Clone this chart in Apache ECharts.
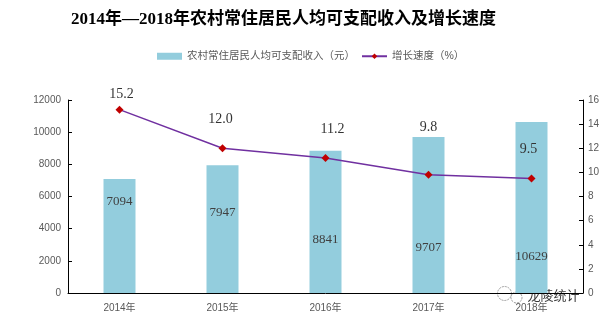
<!DOCTYPE html>
<html>
<head>
<meta charset="utf-8">
<script src="https://cdn.jsdelivr.net/npm/echarts@6/dist/echarts.min.js"></script>
<style>
  html, body { margin: 0; padding: 0; background: #fff; }
  #chart { width: 606px; height: 322px; }
</style>
</head>
<body>
<div id="chart"></div>
<script>
// Rural per-capita disposable income (yuan) and its growth rate (%)
const categories = ['2014年', '2015年', '2016年', '2017年', '2018年'];
const income = [7094, 7947, 8841, 9707, 10629];
const growth = [15.2, 12.0, 11.2, 9.8, 9.5];

// Axis ranges
const incomeAxis = { min: 0, max: 12000, interval: 2000 };
const growthAxis = { min: 0, max: 16, interval: 2 };

// Label placement: depth of the income label below each bar top (px),
// and shift of each growth label from its marker (px)
const incomeLabelDepth = [23, 47, 89, 111, 135];
const growthLabelShift = [[2, -15], [-2, -29], [7, -29], [0, -47], [-3, -29]];

const serif = '"Liberation Serif", "Noto Sans CJK SC", serif';
const sans = '"Liberation Sans", "Noto Sans CJK SC", sans-serif';
const axisText = { color: '#595959', fontSize: 10, fontFamily: sans, formatter: v => String(v) };

const chart = echarts.init(document.getElementById('chart'), null, { renderer: 'canvas' });

chart.setOption({
  animation: false,
  backgroundColor: '#ffffff',
  title: {
    text: '2014年—2018年农村常住居民人均可支配收入及增长速度',
    left: 66,
    top: 6,
    textStyle: { fontSize: 17, fontWeight: 'bold', color: '#000', fontFamily: serif }
  },
  legend: {
    left: 152,
    top: 46,
    itemGap: 6,
    itemWidth: 25,
    itemHeight: 7,
    textStyle: { color: '#595959', fontSize: 10.5, fontFamily: sans },
    data: [
      { name: '农村常住居民人均可支配收入（元）', icon: 'rect' },
      { name: '增长速度（%）' }
    ]
  },
  grid: { left: 68, right: 23, top: 100, bottom: 29 },
  xAxis: {
    type: 'category',
    data: categories,
    axisLine: { lineStyle: { color: '#000', width: 1 } },
    axisTick: { show: false },
    axisLabel: { margin: 10, color: '#595959', fontSize: 10, fontFamily: sans }
  },
  yAxis: [
    {
      type: 'value',
      min: incomeAxis.min, max: incomeAxis.max, interval: incomeAxis.interval,
      axisLine: { show: true, lineStyle: { color: '#000', width: 1 } },
      axisTick: { show: true, inside: true, length: 4, lineStyle: { color: '#000' } },
      splitLine: { show: false },
      axisLabel: Object.assign({ margin: 7 }, axisText)
    },
    {
      type: 'value',
      position: 'right',
      min: growthAxis.min, max: growthAxis.max, interval: growthAxis.interval,
      axisLine: { show: true, lineStyle: { color: '#000', width: 1 } },
      axisTick: { show: true, inside: true, length: 4, lineStyle: { color: '#000' } },
      splitLine: { show: false },
      axisLabel: Object.assign({ margin: 5 }, axisText)
    }
  ],
  series: [
    {
      name: '农村常住居民人均可支配收入（元）',
      type: 'bar',
      yAxisIndex: 0,
      barWidth: 32,
      itemStyle: { color: '#93CDDD' },
      data: income.map((v, i) => ({
        value: v,
        label: {
          show: true,
          position: ['50%', incomeLabelDepth[i]],
          align: 'center',
          verticalAlign: 'middle',
          color: '#404040',
          fontSize: 13,
          fontFamily: serif
        }
      }))
    },
    {
      name: '增长速度（%）',
      type: 'line',
      yAxisIndex: 1,
      symbol: 'diamond',
      symbolSize: 8,
      lineStyle: { color: '#7030A0', width: 1.5 },
      itemStyle: { color: '#C00000' },
      z: 5,
      data: growth.map((v, i) => ({
        value: v,
        label: {
          show: true,
          position: 'inside',
          offset: growthLabelShift[i],
          formatter: p => p.value.toFixed(1),
          color: '#333333',
          fontSize: 14,
          fontFamily: serif
        }
      }))
    }
  ],
  graphic: [
    {
      type: 'group',
      left: 497,
      top: 286,
      z: 100,
      children: [
        { type: 'circle', shape: { cx: 8, cy: 7, r: 7 },
          style: { fill: 'rgba(255,255,255,0.6)', stroke: '#9a9a9a', lineWidth: 1, lineDash: [2, 1] } },
        { type: 'circle', shape: { cx: 20, cy: 11, r: 5.5 },
          style: { fill: 'rgba(255,255,255,0.6)', stroke: '#9a9a9a', lineWidth: 1, lineDash: [2, 1] } },
        { type: 'text', x: 31, y: 9,
          style: { text: '龙陵统计', fontSize: 13, fill: '#3a3a3a', stroke: '#ffffff', lineWidth: 2,
                   fontFamily: '"Noto Sans CJK SC", sans-serif', verticalAlign: 'middle' } }
      ]
    }
  ]
});
</script>
</body>
</html>
